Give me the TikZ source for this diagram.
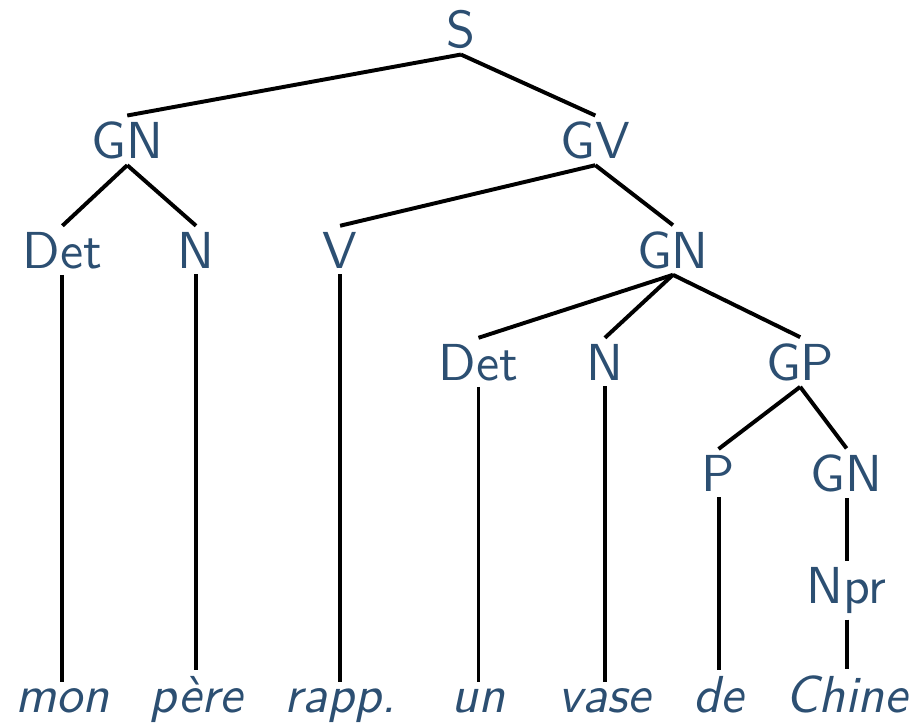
\documentclass[tikz,border=0pt]{standalone}
\usepackage{fontspec}
\setsansfont{lmsans10-regular.otf}[ItalicFont=lmsans10-oblique.otf]
\definecolor{labelblue}{RGB}{44,79,114}
\tikzset{
  cat/.style={anchor=base,inner sep=2pt,text=labelblue,font=\sffamily\fontsize{18.5pt}{22pt}\selectfont},
  word/.style={cat,font=\sffamily\itshape\fontsize{18.5pt}{22pt}\selectfont},
  branch/.style={line width=1.4pt}
}
\begin{document}
\begin{tikzpicture}
    \useasboundingbox (0,0) rectangle (11.46,-9.04);
    % Categories
    \node[cat] (s) at (5.76,-0.59) {S};
    \node[cat] (gnA) at (1.59,-1.98) {GN};
    \node[cat] (gv) at (7.44,-1.98) {GV};
    \node[cat] (detA) at (0.78,-3.35) {Det};
    \node[cat] (nA) at (2.45,-3.35) {N};
    \node[cat] (v) at (4.25,-3.35) {V};
    \node[cat] (gnB) at (8.41,-3.35) {GN};
    \node[cat] (detB) at (5.98,-4.75) {Det};
    \node[cat] (nB) at (7.56,-4.75) {N};
    \node[cat] (gp) at (10.0,-4.75) {GP};
    \node[cat] (p) at (8.98,-6.14) {P};
    \node[cat] (gnC) at (10.58,-6.14) {GN};
    \node[cat] (npr) at (10.58,-7.54) {Npr};
    
    % Words
    \node[word] (mon) at (0.78,-8.9) {mon};
    \node[word] (pere) at (2.45,-8.9) {père};
    \node[word] (rapp) at (4.25,-8.9) {rapp.};
    \node[word] (un) at (5.98,-8.9) {un};
    \node[word] (vase) at (7.56,-8.9) {vase};
    \node[word] (de) at (8.98,-8.9) {de};
    \node[word] (chine) at (10.58,-8.9) {Chine};
    
    % Branches
    \draw[branch] (s.south) -- (gnA.north);
    \draw[branch] (s.south) -- (gv.north);
    \draw[branch] (gnA.south) -- (detA.north);
    \draw[branch] (gnA.south) -- (nA.north);
    \draw[branch] (gv.south) -- (v.north);
    \draw[branch] (gv.south) -- (gnB.north);
    \draw[branch] (gnB.south) -- (detB.north);
    \draw[branch] (gnB.south) -- (nB.north);
    \draw[branch] (gnB.south) -- (gp.north);
    \draw[branch] (gp.south) -- (p.north);
    \draw[branch] (gp.south) -- (gnC.north);
    \draw[branch] (gnC.south) -- (npr.north);
    
    % Leaves
    \draw[branch] (detA.south) -- (mon.north);
    \draw[branch] (nA.south) -- (pere.north);
    \draw[branch] (v.south) -- (rapp.north);
    \draw[branch] (detB.south) -- (un.north);
    \draw[branch] (nB.south) -- (vase.north);
    \draw[branch] (p.south) -- (de.north);
    \draw[branch] (npr.south) -- (chine.north);
\end{tikzpicture}
\end{document}
